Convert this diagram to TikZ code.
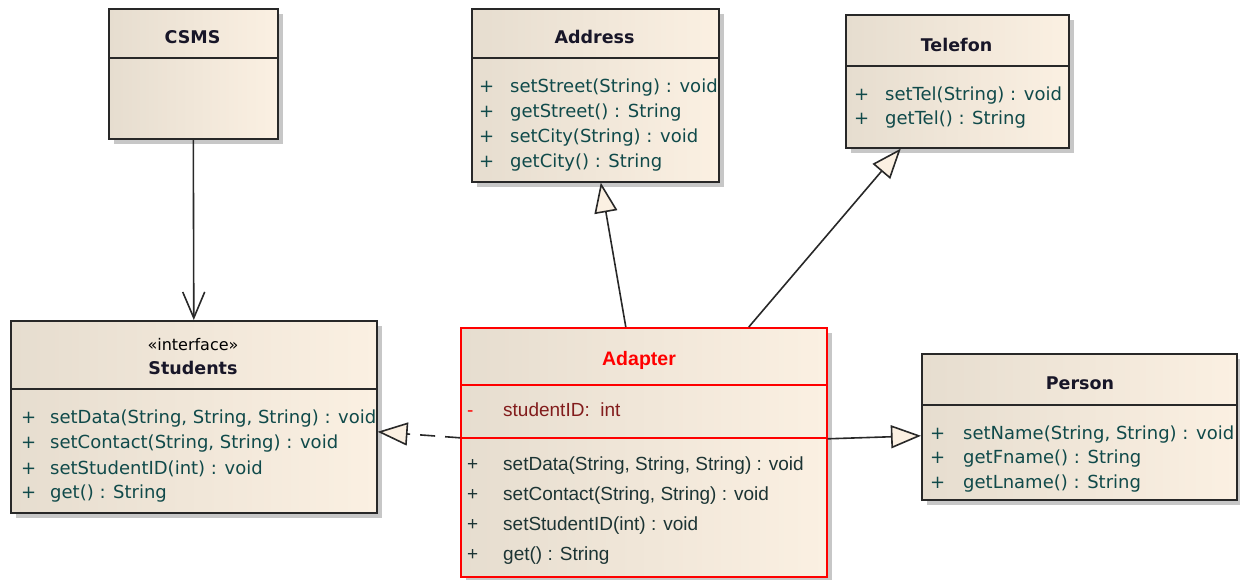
\documentclass[tikz,border=0pt]{standalone}
\usepackage{fontspec}
\setmainfont{DejaVu Sans}
\newfontfamily\adapterfont{Liberation Sans}
\usepackage{tikz}
\usetikzlibrary{positioning,calc,arrows.meta,shadows}

\definecolor{boxleft}{RGB}{230,221,207}
\definecolor{boxright}{RGB}{251,240,226}
\definecolor{opteal}{RGB}{16,74,74}
\definecolor{opdark}{RGB}{28,52,52}
\definecolor{attrred}{RGB}{130,28,28}
\definecolor{titleink}{RGB}{24,22,40}
\definecolor{edgegray}{RGB}{40,40,40}

\tikzset{
  classbox/.style={draw=edgegray, line width=1.6pt, left color=boxleft, right color=boxright,
    anchor=north west, inner sep=0pt,
    drop shadow={shadow xshift=5pt, shadow yshift=-5pt, fill=black!22, opacity=1}},
  adapterbox/.style={classbox, draw=red},
  divider/.style={draw=edgegray, line width=1.6pt},
  titletext/.style={inner sep=0pt, text=titleink, font=\fontsize{17.5}{20}\selectfont\bfseries},
  optext/.style={anchor=west, inner sep=0pt, text=opteal, font=\fontsize{18}{20}\selectfont},
  adaptext/.style={anchor=west, inner sep=0pt, text=opdark, font=\adapterfont\fontsize{19}{21}\selectfont},
  assoc/.style={draw=edgegray, line width=1.6pt, -{Straight Barb[length=26pt,width=22pt,line width=1.6pt]}},
  realize/.style={draw=edgegray, line width=1.6pt, -{Triangle[length=30pt,width=23pt,fill=boxright,line width=1.6pt]}},
}

\begin{document}
\begin{tikzpicture}[x=1pt,y=1pt,yscale=-1,xscale=1]
\useasboundingbox (0,0) rectangle (1240,579);

% Class: CSMS
\node[classbox, minimum width=169pt, minimum height=130pt] (csms) at (108,8) {};
\draw[divider] (108,58) -- (277,58);
\node[titletext] (csms-t) at (192.5,37) {CSMS};

% Class: Address
\node[classbox, minimum width=247pt, minimum height=173pt] (address) at (471,8) {};
\draw[divider] (471,58) -- (718,58);
\node[titletext] (address-t) at (594.5,37) {Address};
\node[optext] (address-1) at (479,88) {\makebox[31pt][l]{+}setStreet(String) : void};
\node[optext] (address-2) at (479,113) {\makebox[31pt][l]{+}getStreet() : String};
\node[optext] (address-3) at (479,138) {\makebox[31pt][l]{+}setCity(String) : void};
\node[optext] (address-4) at (479,163) {\makebox[31pt][l]{+}getCity() : String};

% Class: Telefon
\node[classbox, minimum width=223pt, minimum height=133pt] (telefon) at (845,14) {};
\draw[divider] (845,66) -- (1068,66);
\node[titletext] (telefon-t) at (956.5,45) {Telefon};
\node[optext] (telefon-1) at (854,96) {\makebox[31pt][l]{+}setTel(String) : void};
\node[optext] (telefon-2) at (854,120) {\makebox[31pt][l]{+}getTel() : String};

% Class: Students
\node[classbox, minimum width=366pt, minimum height=192pt] (students) at (10,320) {};
\draw[divider] (10,389) -- (376,389);
\node[inner sep=0pt, font=\fontsize{16}{18}\selectfont] (students-s) at (193,345) {«interface»};
\node[titletext] (students-t) at (193,368) {Students};
\node[optext] (students-1) at (21,419) {\makebox[29pt][l]{+}setData(String, String, String) : void};
\node[optext] (students-2) at (21,444) {\makebox[29pt][l]{+}setContact(String, String) : void};
\node[optext] (students-3) at (21,469) {\makebox[29pt][l]{+}setStudentID(int) : void};
\node[optext] (students-4) at (21,494) {\makebox[29pt][l]{+}get() : String};

% Class: Adapter
\node[adapterbox, minimum width=366pt, minimum height=249pt] (adapter) at (460,327) {};
\draw[divider, draw=red] (460,385) -- (826,385);
\draw[divider, draw=red] (460,438) -- (826,438);
\node[titletext, text=red, font=\adapterfont\fontsize{19.5}{22}\selectfont\bfseries] (adapter-t) at (639,360) {Adapter};
\node[adaptext, text=attrred] (adapter-a) at (467,410) {\makebox[36pt][l]{\textcolor{red}{-}}studentID:\ \ int};
\node[adaptext] (adapter-1) at (467,466) {\makebox[36pt][l]{+}setData(String, String, String) : void};
\node[adaptext] (adapter-2) at (467,496) {\makebox[36pt][l]{+}setContact(String, String) : void};
\node[adaptext] (adapter-3) at (467,526) {\makebox[36pt][l]{+}setStudentID(int) : void};
\node[adaptext] (adapter-4) at (467,556) {\makebox[36pt][l]{+}get() : String};

% Class: Person
\node[classbox, minimum width=315pt, minimum height=146pt] (person) at (921,353) {};
\draw[divider] (921,405) -- (1236,405);
\node[titletext] (person-t) at (1080,383) {Person};
\node[optext] (person-1) at (930,435) {\makebox[33pt][l]{+}setName(String, String) : void};
\node[optext] (person-2) at (930,459) {\makebox[33pt][l]{+}getFname() : String};
\node[optext] (person-3) at (930,484) {\makebox[33pt][l]{+}getLname() : String};

% Connectors
\draw[assoc] (csms.south) -- (students.north);
\draw[realize] ($(adapter.north)+(-18,0)$) -- ($(address.south)+(5.5,0)$);
\draw[realize] ($(adapter.north)+(105,0)$) -- ($(telefon.south)+(-56.5,0)$);
\draw[realize] ($(adapter.east)+(0,-13.5)$) -- ($(person.west)+(0,9)$);
\draw[realize, dash pattern=on 15pt off 10pt] ($(adapter.west)+(0,-14.5)$) -- ($(students.east)+(0,15)$);
\end{tikzpicture}
\end{document}
